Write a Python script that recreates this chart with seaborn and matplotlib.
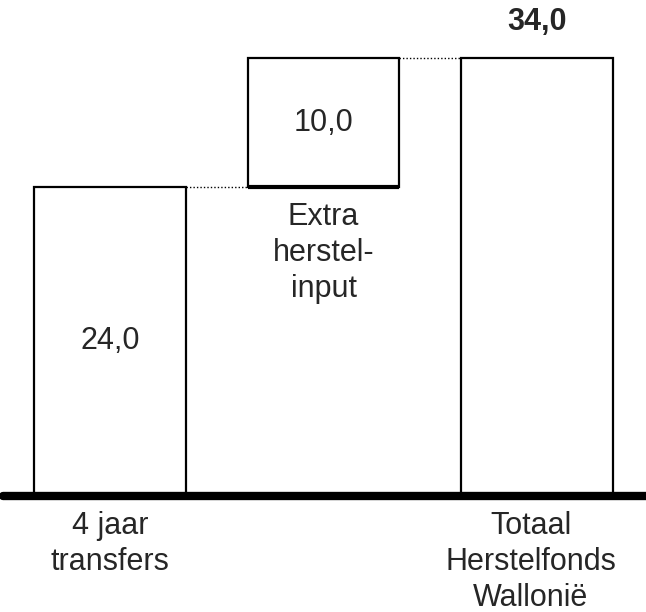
import numpy as np
import pandas as pd
import seaborn as sns
import matplotlib.pyplot as plt

categories = ["4 jaar\ntransfers", "Extra\nherstel-\ninput", "Totaal\nHerstelfonds\nWallonië"]
heights = [24.0, 10.0, 34.0]
bottoms = [0.0, 24.0, 0.0]
value_labels = ["24,0", "10,0", "34,0"]

sns.set_style("white")
plt.rcParams['font.family'] = ['Liberation Sans', 'DejaVu Sans']

data = pd.DataFrame({"cat": categories, "height": heights, "bottom": bottoms})

fig = plt.figure(figsize=(6.46, 6.12), dpi=100)
ax = fig.add_axes([0, 0, 1, 1])

sns.barplot(x="cat", y="height", data=data, bottom=data["bottom"].values,
            color="white", edgecolor="black", linewidth=1.6, width=0.71,
            saturation=1, ax=ax)

ax.set_xlim(-0.515, 2.51)
ax.set_ylim(-9.01, 38.52)
ax.set_axis_off()

half = 0.71 / 2
# dotted connectors between bars
tops = np.array(bottoms) + np.array(heights)
ax.plot([0 + half, 1 - half], [tops[0], tops[0]], color="black", lw=1, ls=(0, (1, 1.5)))
ax.plot([1 + half, 2 - half], [tops[1], tops[1]], color="black", lw=1, ls=(0, (1, 1.5)))
# thicker bottom edge of the floating bar
ax.plot([1 - half, 1 + half], [bottoms[1], bottoms[1]], color="black", lw=3, solid_capstyle="butt")

# baseline
ax.axhline(0, xmin=0.005, xmax=1, color="black", lw=6)

fs = 22
ax.text(0, bottoms[0] + heights[0] / 2, value_labels[0], ha="center", va="center", fontsize=fs)
ax.text(1, bottoms[1] + heights[1] / 2, value_labels[1], ha="center", va="center", fontsize=fs)
ax.text(2, tops[2] + 2.8, value_labels[2], ha="center", va="center", fontsize=fs, fontweight="bold")

ax.text(0, -1.2, categories[0], ha="center", va="top", fontsize=fs, linespacing=1.25)
ax.text(1, bottoms[1] - 1.2, categories[1], ha="center", va="top", fontsize=fs, linespacing=1.25)
ax.text(1.97, -1.2, categories[2], ha="center", va="top", fontsize=fs, linespacing=1.25)

fig.savefig("out.png", dpi=100)
